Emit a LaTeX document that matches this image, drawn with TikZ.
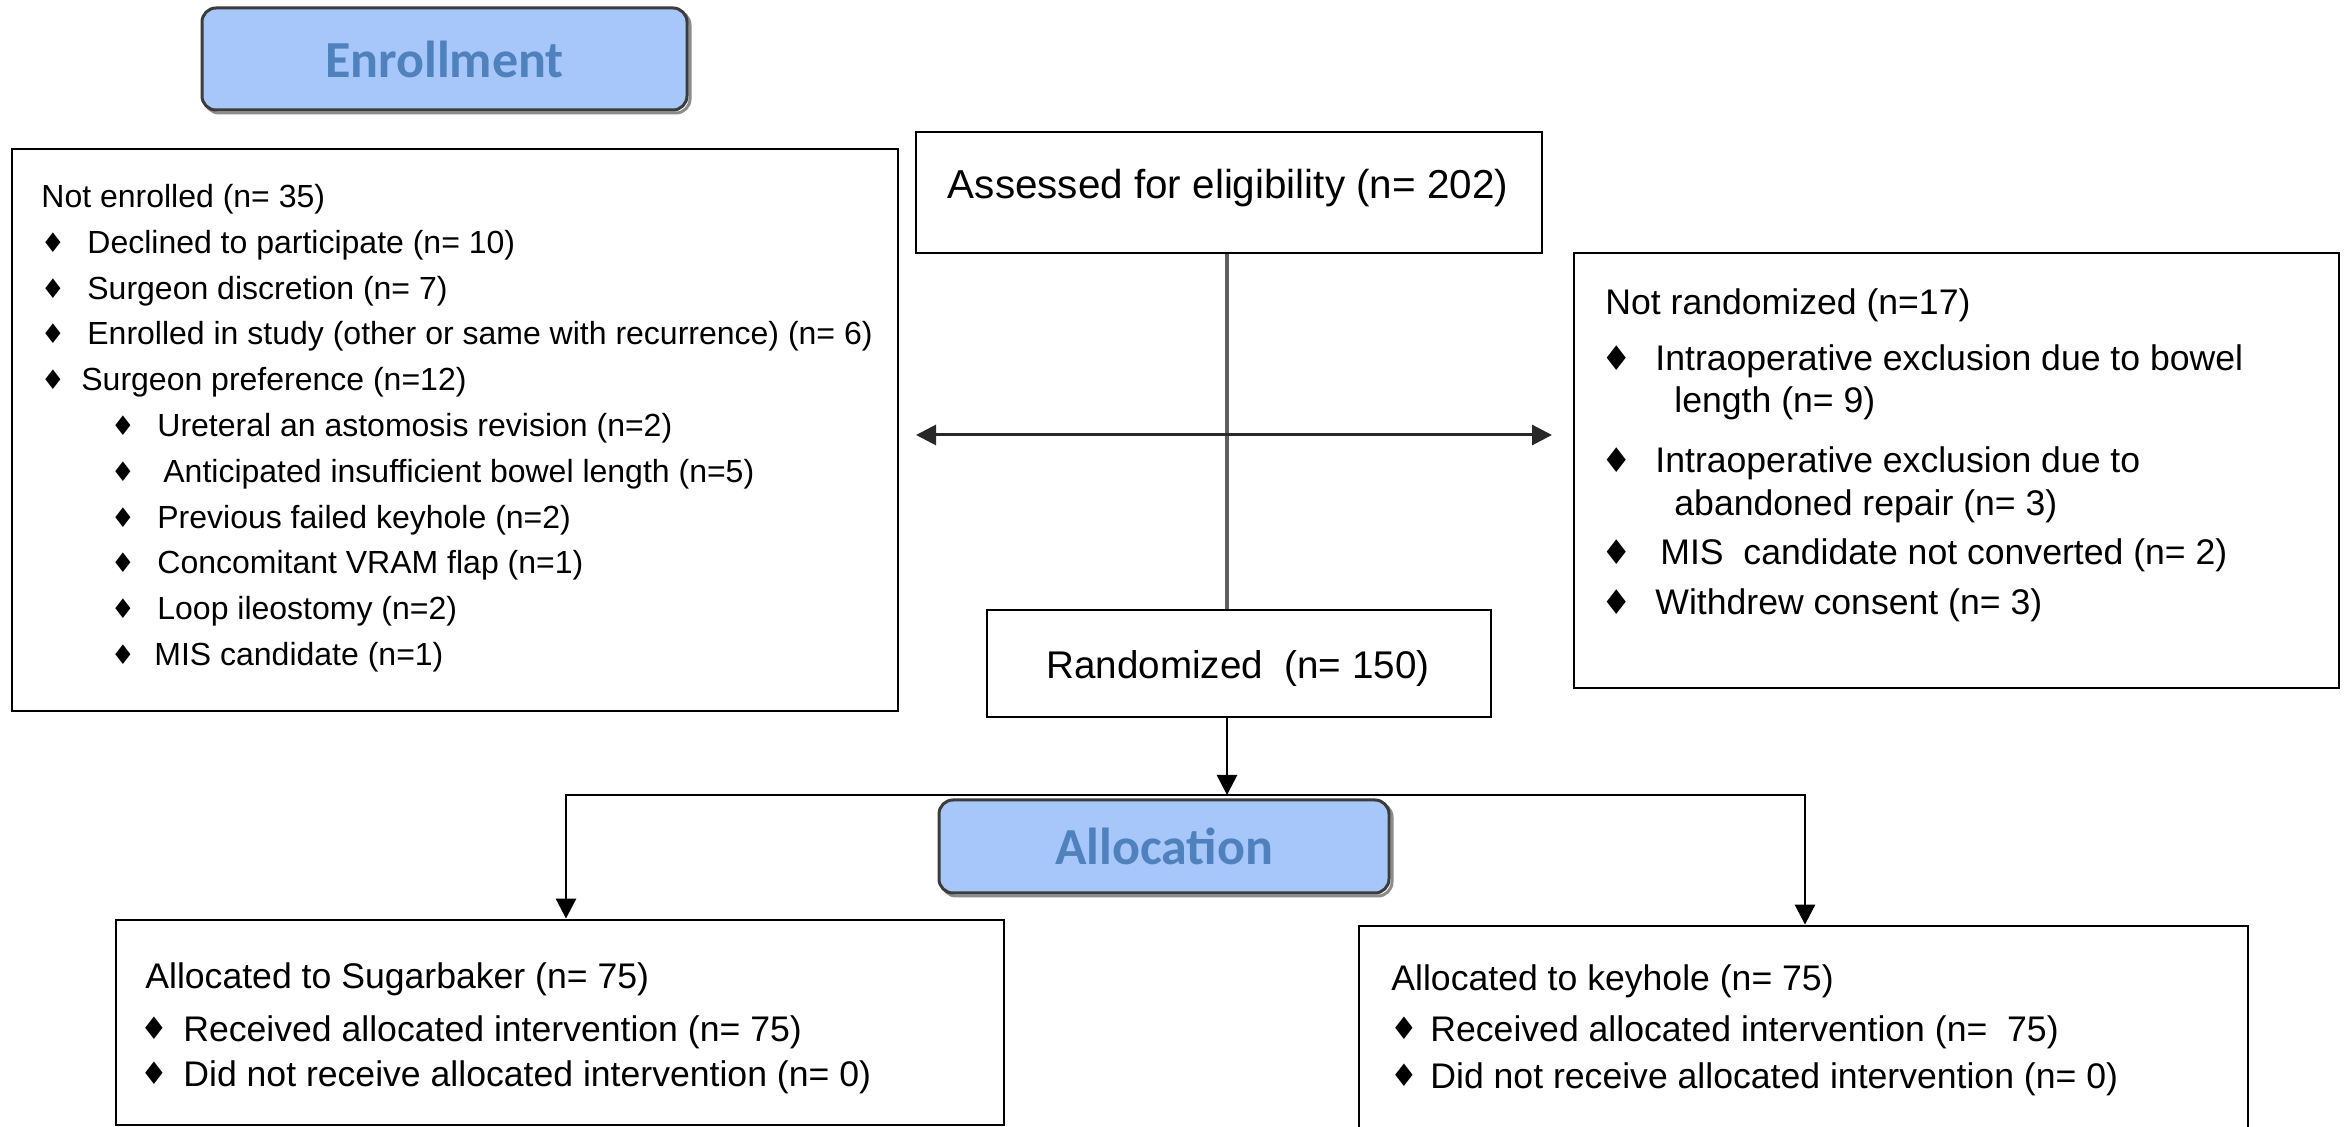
\documentclass[tikz,border=0pt]{standalone}
\usepackage{fontspec}
\setmainfont{Liberation Sans}
\newfontfamily\hdrfont{Carlito}
\newfontfamily\bulfont{DejaVu Sans}
\usetikzlibrary{arrows.meta,fit}
\definecolor{hdrfill}{RGB}{167,198,249}
\definecolor{hdrtext}{RGB}{79,129,189}
\definecolor{hdrline}{RGB}{60,60,60}
\definecolor{vline}{RGB}{95,95,95}
\definecolor{hline}{RGB}{40,40,40}
\begin{document}
\begin{tikzpicture}[x=0.5pt,y=-0.5pt,
  box/.style={draw=black,line width=1.4pt,inner sep=0pt},
  hdr/.style={draw=hdrline,fill=hdrfill,line width=1.5pt,rounded corners=7pt,inner sep=0pt},
  hdrtxt/.style={anchor=center,inner sep=0pt,text=hdrtext,font=\hdrfont\bfseries\fontsize{26}{30}\selectfont},
  hdrshadow/.style={draw=black!45,line width=1.5pt,rounded corners=7pt},
  lt/.style={anchor=base west,inner sep=0pt,font=\fontsize{16}{19}\selectfont},
  rt/.style={anchor=base west,inner sep=0pt,font=\fontsize{17.8}{21}\selectfont},
  ct/.style={anchor=base,inner sep=0pt},
  bulS/.style={anchor=center,inner sep=0pt,font=\bulfont\fontsize{13.5}{14}\selectfont},
  bulL/.style={anchor=center,inner sep=0pt,font=\bulfont\fontsize{17}{18}\selectfont},
  bulM/.style={anchor=center,inner sep=0pt,font=\bulfont\fontsize{15.5}{16}\selectfont},
  arr/.style={-{Triangle[length=10pt,width=10pt]},line width=1.4pt},
  darr/.style={{Triangle[length=10pt,width=10pt]}-{Triangle[length=10pt,width=10pt]},line width=1.5pt,draw=hline}
]
\useasboundingbox (0,0) rectangle (2346,1127);
\clip (0,0) rectangle (2346,1127);

% ---------- headers ----------
\draw[hdrshadow] (205,11) rectangle (690,113);
\node[hdr,fit={(202,8) (687,110)}] (enroll) {};
\node[hdrtxt] (enrollt) at (enroll.center) {Enrollment};
\draw[hdrshadow] (942,803) rectangle (1392,896);
\node[hdr,fit={(939,800) (1389,893)}] (alloc) {};
\node[hdrtxt] (alloct) at (alloc.center) {Allocation};

% ---------- boxes ----------
\node[box,fit={(12,149) (898,711)}] (notenr) {};
\node[box,fit={(916,132) (1542,253)}] (assess) {};
\node[box,fit={(987,610) (1491,717)}] (rand) {};
\node[box,fit={(1574,253) (2339,688)}] (notrand) {};
\node[box,fit={(116,920) (1004,1125)}] (sug) {};
\node[box,fit={(1359,926) (2248,1145)}] (key) {};

% ---------- centre texts ----------
\node[ct,font=\fontsize{20.2}{24}\selectfont] (assesst) at (1228,199) {Assessed for eligibility (n= 202)};
\node[ct,font=\fontsize{19.3}{23}\selectfont] (randt) at (1238,679) {Randomized\ \ (n= 150)};

% ---------- not enrolled ----------
\node[lt] (l0) at (41,208) {Not enrolled (n= 35)};
\node[bulS] (lb1) at (53,243) {♦};
\node[lt] (l1) at (87,254) {Declined to participate (n= 10)};
\node[bulS] (lb2) at (53,289) {♦};
\node[lt] (l2) at (87,300) {Surgeon discretion (n= 7)};
\node[bulS] (lb3) at (53,334) {♦};
\node[lt] (l3) at (87,345) {Enrolled in study (other or same with recurrence) (n= 6)};
\node[bulS] (lb4) at (53,380) {♦};
\node[lt] (l4) at (81,391) {Surgeon preference (n=12)};
\node[bulS] (lb5) at (123,426) {♦};
\node[lt] (l5) at (157,437) {Ureteral an astomosis revision (n=2)};
\node[bulS] (lb6) at (123,472) {♦};
\node[lt] (l6) at (163,483) {Anticipated insufficient bowel length (n=5)};
\node[bulS] (lb7) at (123,518) {♦};
\node[lt] (l7) at (157,529) {Previous failed keyhole (n=2)};
\node[bulS] (lb8) at (123,563) {♦};
\node[lt] (l8) at (157,574) {Concomitant VRAM flap (n=1)};
\node[bulS] (lb9) at (123,609) {♦};
\node[lt] (l9) at (157,620) {Loop ileostomy (n=2)};
\node[bulS] (lb10) at (123,655) {♦};
\node[lt] (l10) at (154,666) {MIS candidate (n=1)};

% ---------- not randomized ----------
\node[rt] (r0) at (1605,315) {Not randomized (n=17)};
\node[bulL] (rb1) at (1617,358) {♦};
\node[rt] (r1) at (1655,371) {Intraoperative exclusion due to bowel};
\node[rt] (r1b) at (1674,413) {length (n= 9)};
\node[bulL] (rb2) at (1617,460) {♦};
\node[rt] (r2) at (1655,473) {Intraoperative exclusion due to};
\node[rt] (r2b) at (1674,516) {abandoned repair (n= 3)};
\node[bulL] (rb3) at (1617,552) {♦};
\node[rt] (r3) at (1660,565) {MIS\ \ candidate not converted (n= 2)};
\node[bulL] (rb4) at (1617,602) {♦};
\node[rt] (r4) at (1655,615) {Withdrew consent (n= 3)};

% ---------- allocated boxes ----------
\node[rt] (s0) at (145,988) {Allocated to Sugarbaker (n= 75)};
\node[bulM] (sb1) at (154,1028) {♦};
\node[rt] (s1) at (183,1041) {Received allocated intervention (n= 75)};
\node[bulM] (sb2) at (154,1073) {♦};
\node[rt] (s2) at (183,1086) {Did not receive allocated intervention (n= 0)};

\node[rt] (k0) at (1391,990) {Allocated to keyhole (n= 75)};
\node[bulM] (kb1) at (1404,1028) {♦};
\node[rt] (k1) at (1430,1041) {Received allocated intervention (n=\ \ 75)};
\node[bulM] (kb2) at (1404,1075) {♦};
\node[rt] (k2) at (1430,1088) {Did not receive allocated intervention (n= 0)};

% ---------- connectors ----------
\coordinate (cross) at (1227,435);
\coordinate (lefttip) at (916,435);
\coordinate (righttip) at (1552,435);
\coordinate (split) at (1227,795);
\draw[line width=1.6pt,draw=vline] (assess.south -| cross) -- (rand.north -| cross);
\draw[darr] (lefttip) -- (righttip);
\draw[arr,draw=black] (rand.south -| split) -- (split);
\draw[line width=1.4pt] (566,795) -- (1805,795);
\draw[arr] (split) -| (sug.north -| 566,0);
\draw[arr] (split) -| (key.north -| 1805,0);
\end{tikzpicture}
\end{document}
